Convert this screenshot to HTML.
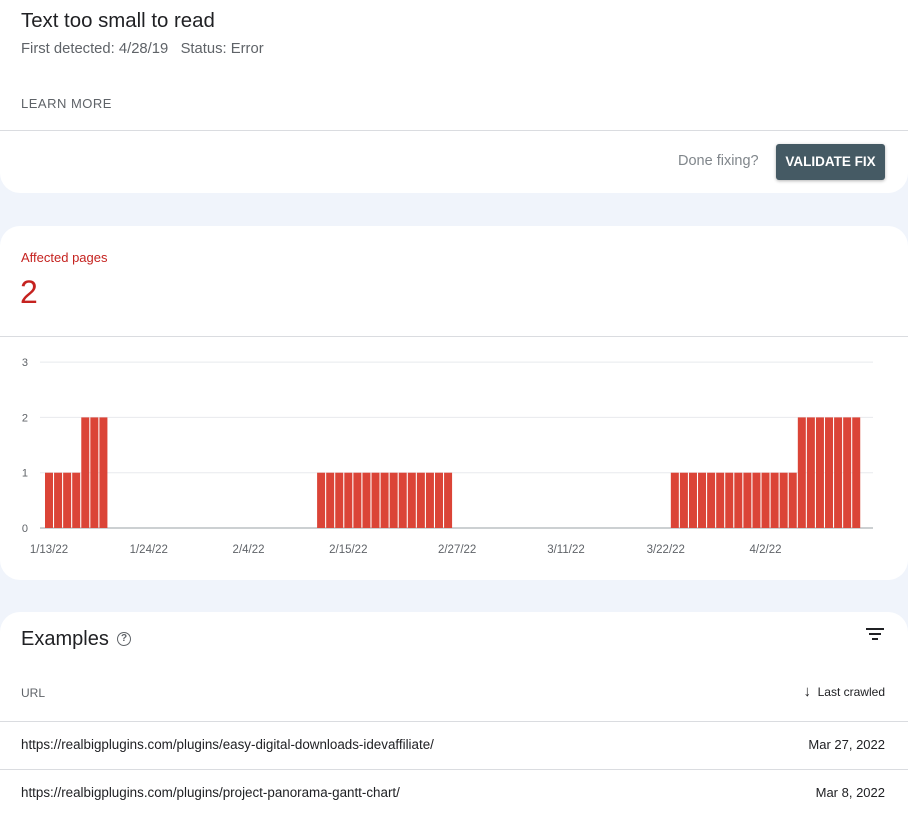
<!DOCTYPE html>
<html><head><meta charset="utf-8">
<style>
body{margin:0;width:908px;height:815px;background:#f0f4fb;font-family:"Liberation Sans",sans-serif;position:relative;overflow:hidden}
.card{position:absolute;left:0;width:908px;background:#fff}
.abs{position:absolute;white-space:nowrap}
</style></head><body>
<div class="card" style="top:0;height:193px;border-radius:0 0 20px 20px">
  <div class="abs" style="left:21px;top:10px;font-size:20.4px;color:#202124">Text too small to read</div>
  <div class="abs" style="left:21px;top:41px;font-size:14.8px;color:#5f6368">First detected: 4/28/19&nbsp;&nbsp;&nbsp;Status: Error</div>
  <div class="abs" style="left:21px;top:96px;font-size:13px;color:#5f6368;letter-spacing:0.5px">LEARN MORE</div>
  <div class="abs" style="left:0;top:130px;width:908px;height:1px;background:#dadce0"></div>
  <div class="abs" style="left:678px;top:153px;font-size:14.5px;color:#80868b">Done fixing?</div>
  <div class="abs" style="left:776px;top:144px;width:109px;height:36px;background:#455a64;border-radius:3px;color:#fff;font-weight:bold;font-size:13.5px;line-height:36px;text-align:center;box-shadow:0 1px 3px rgba(0,0,0,.3)">VALIDATE FIX</div>
</div>
<div class="card" style="top:226px;height:354px;border-radius:20px">
  <div class="abs" style="left:21px;top:24px;font-size:13px;color:#c5221f">Affected pages</div>
  <div class="abs" style="left:20px;top:48px;font-size:32px;color:#c5221f">2</div>
  <div class="abs" style="left:0;top:110px;width:908px;height:1px;background:#dadce0"></div>
</div>
<svg id="chart" style="position:absolute;left:0;top:0" width="908" height="815"></svg>
<div class="card" style="top:612px;height:220px;border-radius:20px 20px 0 0">
  <div class="abs" style="left:21px;top:16px;font-size:20px;color:#202124">Examples</div>
  <div class="abs" style="left:117px;top:20px;width:12px;height:12px;border:1.5px solid #5f6368;border-radius:50%;font-size:10px;line-height:12px;text-align:center;color:#5f6368;font-weight:bold">?</div>
  <svg class="abs" style="left:866px;top:16px" width="18" height="14"><rect x="0" y="0" width="18" height="2" fill="#202124"/><rect x="3" y="5" width="12" height="2" fill="#202124"/><rect x="6" y="10" width="6" height="2" fill="#202124"/></svg>
  <div class="abs" style="left:21px;top:74px;font-size:12px;color:#5f6368">URL</div>
  <div class="abs" style="right:23px;top:73px;font-size:12px;color:#202124"><span style="font-size:15px;line-height:12px">&#8595;</span>&nbsp;&nbsp;Last crawled</div>
  <div class="abs" style="left:0;top:109px;width:908px;height:1px;background:#dadce0"></div>
  <div class="abs" style="left:21px;top:125px;font-size:13.4px;color:#202124">https://realbigplugins.com/plugins/easy-digital-downloads-idevaffiliate/</div>
  <div class="abs" style="right:23px;top:125px;font-size:13px;color:#202124">Mar 27, 2022</div>
  <div class="abs" style="left:0;top:157px;width:908px;height:1px;background:#dadce0"></div>
  <div class="abs" style="left:21px;top:173px;font-size:13.4px;color:#202124">https://realbigplugins.com/plugins/project-panorama-gantt-chart/</div>
  <div class="abs" style="right:23px;top:173px;font-size:13px;color:#202124">Mar 8, 2022</div>
</div>
<script>
const startDate = "1/13/22";
const values = [1,1,1,1,2,2,2, 0,0,0,0,0,0,0,0,0,0,0,0,0,0,0,0,0,0,0,0,0,0,0,
 1,1,1,1,1,1,1,1,1,1,1,1,1,1,1,
 0,0,0,0,0,0,0,0,0,0,0,0,0,0,0,0,0,0,0,0,0,0,0,0,
 1,1,1,1,1,1,1,1,1,1,1,1,1,1,
 2,2,2,2,2,2,2];
const yTicks = [0,1,2,3];
const xTickLabels = ["1/13/22","1/24/22","2/4/22","2/15/22","2/27/22","3/11/22","3/22/22","4/2/22"];
const xTickIndex = [0,11,22,33,45,57,68,79];

const svg = document.getElementById('chart');
const NS = 'http://www.w3.org/2000/svg';
const step = 9.07, x0 = 49;
const xs = i => x0 + i*step;
const ys = v => 528 - v*55.3;
function mk(tag, attrs){const e=document.createElementNS(NS,tag);for(const k in attrs)e.setAttribute(k,attrs[k]);svg.appendChild(e);return e;}
yTicks.forEach(t=>{
  const g = mk('line',{x1:40,x2:873,y1:ys(t),y2:ys(t),stroke:t===0?'#9aa0a6':'#e8eaed','stroke-width':1});
  
  
  const tx = mk('text',{x:28,y:ys(t)+4,'text-anchor':'end','font-size':11,fill:'#5f6368','font-family':'Liberation Sans, sans-serif'});
  tx.textContent = t;
  
  
});
values.forEach((v,i)=>{
  if(!v) return;
  const r = mk('rect',{x:xs(i)-4,y:ys(v),width:8,height:ys(0)-ys(v),fill:'#db4437'});
  
  
});
xTickLabels.forEach((l,k)=>{
  const tx = mk('text',{x:xs(xTickIndex[k]),y:553,'text-anchor':'middle','font-size':11.5,fill:'#5f6368','font-family':'Liberation Sans, sans-serif'});
  tx.textContent = l;
  
  
});
</script>
</body></html>
